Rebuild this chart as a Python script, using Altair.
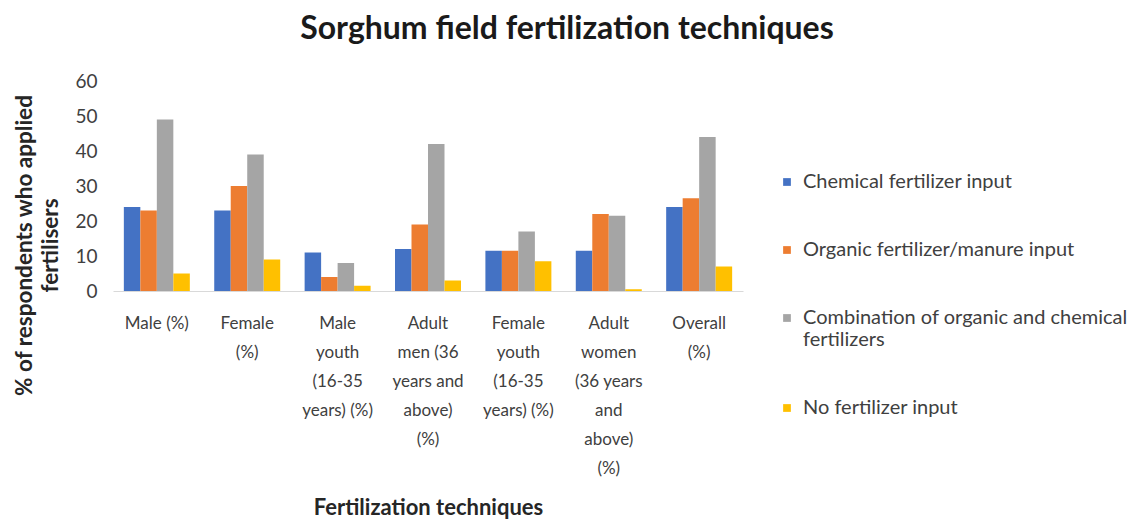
import altair as alt
import pandas as pd

categories = ["Male (%)", "Female|(%)", "Male|youth|(16-35|years) (%)", "Adult|men (36|years and|above)|(%)",
              "Female|youth|(16-35|years) (%)", "Adult|women|(36 years|and|above)|(%)", "Overall|(%)"]
series = ["Chemical fertilizer input", "Organic fertilizer/manure input",
          "Combination of organic and chemical|fertilizers", "No fertilizer input"]
chemical = [24, 23, 11, 12, 11.5, 11.5, 24]
organic = [23, 30, 4, 19, 11.5, 22, 26.5]
combination = [49, 39, 8, 42, 17, 21.5, 44]
none_input = [5, 9, 1.5, 3, 8.5, 0.5, 7]
colors = ["#4472C4", "#ED7D31", "#A5A5A5", "#FFC000"]

rows = []
for vals, s in zip([chemical, organic, combination, none_input], series):
    for c, v in zip(categories, vals):
        rows.append({"cat": c, "series": s, "value": v})
df = pd.DataFrame(rows)

font = "Lato"
chart = alt.Chart(df).mark_bar().encode(
    x=alt.X("cat:N", sort=categories,
            scale=alt.Scale(paddingInner=0.27, paddingOuter=0.12),
            axis=alt.Axis(title="Fertilization techniques", labelAngle=0,
                          labelExpr="split(datum.label, '|')", labelFontSize=17,
                          labelColor="#404040", labelFont=font, labelLineHeight=29,
                          labelPadding=24, ticks=False, domainColor="#D9D9D9",
                          titleFontSize=22, titleFont=font, titleFontWeight="bold",
                          titleColor="#262626", titlePadding=21, labelLimit=200)),
    xOffset=alt.XOffset("series:N", sort=series),
    y=alt.Y("value:Q", scale=alt.Scale(domain=[0, 60]),
            axis=alt.Axis(title=["% of respondents who applied", "fertilisers"],
                          values=[0, 10, 20, 30, 40, 50, 60], grid=False, domain=False,
                          ticks=False, labelFontSize=19, labelFont=font, labelColor="#404040",
                          labelPadding=16, titleFontSize=22.5, titleFont=font, titleLineHeight=26,
                          titleFontWeight="bold", titleColor="#262626", titlePadding=12,
                          titleY=164)),
    color=alt.Color("series:N", sort=series,
                    scale=alt.Scale(domain=series, range=colors),
                    legend=alt.Legend(title=None, orient="none", legendX=664, legendY=91,
                                      labelExpr="split(datum.label, '|')",
                                      labelFontSize=20, labelFont=font, labelColor="#404040",
                                      symbolType="square", symbolSize=60, symbolStrokeWidth=0,
                                      rowPadding=48, labelLimit=400, labelOffset=6)),
).properties(
    width=630, height=210,
    title=alt.TitleParams("Sorghum field fertilization techniques", fontSize=32,
                          font=font, fontWeight="bold", color="#1a1a1a", anchor="middle",
                          offset=26, dx=139)
).configure_view(stroke=None)

chart.save("out.html", embed_options={"renderer": "svg", "actions": False})
